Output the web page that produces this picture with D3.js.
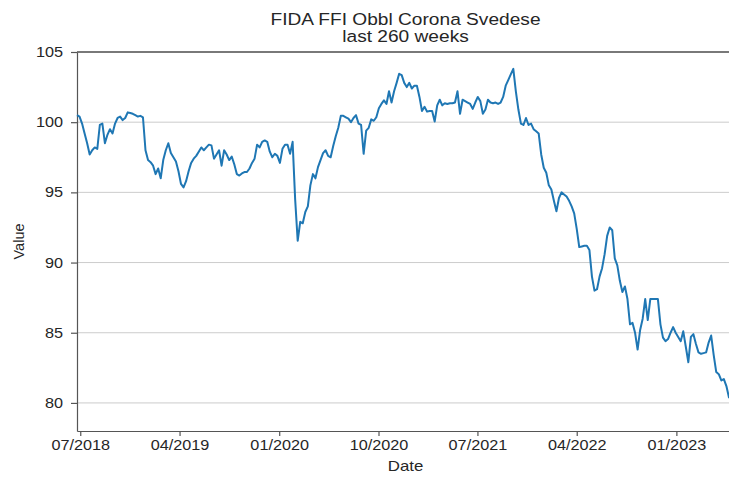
<!DOCTYPE html>
<html>
<head>
<meta charset="utf-8">
<script src="https://cdn.jsdelivr.net/npm/d3@7"></script>
<style>
  body { margin: 0; background: #fff; }
  text { font-family: "Liberation Sans", Arial, sans-serif; fill: #262626; }
</style>
</head>
<body>
<div class="canvas"></div>
<script>
const titleLines = ['FIDA FFI Obbl Corona Svedese', 'last 260 weeks'];
const firstWeek = new Date(2018, 5, 22);

// weekly values, one block per year of the window
const weeksA = [100.5, 100.4, 99.9, 99.2, 98.5, 97.7, 98.0, 98.2, 98.1, 99.8,
  99.9, 98.5, 99.1, 99.5, 99.2, 99.9, 100.3, 100.4, 100.15, 100.3,
  100.7, 100.65, 100.6, 100.5, 100.4, 100.45, 100.35, 98.0, 97.3, 97.15,
  96.9, 96.3, 96.7, 96.0, 97.3, 98.0, 98.5, 97.8, 97.5, 97.2,
  96.5, 95.6, 95.35, 95.8, 96.5, 97.1, 97.4, 97.6, 97.9, 98.2,
  98.0, 98.2];
const weeksB = [98.4, 98.35, 97.4, 97.7, 98.0, 96.9, 98.0, 97.7,
  97.3, 97.55, 97.0, 96.3, 96.2, 96.35, 96.45, 96.45, 96.7, 97.1,
  97.4, 98.4, 98.2, 98.6, 98.7, 98.6, 97.9, 97.5, 97.75, 97.6,
  97.1, 98.1, 98.4, 98.4, 97.75, 98.6, 94.5, 91.55, 92.9, 92.8,
  93.6, 94.0, 95.5, 96.3, 96.0, 96.8, 97.3, 97.8, 98.0, 97.6,
  97.5, 98.3, 99.0, 99.6];
const weeksC = [100.45, 100.45, 100.35, 100.25, 100.0, 100.3,
  100.5, 99.9, 99.8, 97.75, 99.4, 99.6, 100.2, 100.1, 100.35, 101.0,
  101.3, 101.55, 101.3, 102.2, 101.4, 102.2, 102.8, 103.45, 103.35, 102.8,
  102.5, 102.8, 102.4, 102.6, 102.6, 101.8, 100.8, 101.1, 100.75, 100.8,
  100.8, 100.05, 101.2, 101.6, 101.2, 101.35, 101.3, 101.35, 101.35, 101.4,
  102.2, 100.6, 101.6, 101.5, 101.4, 101.3];
const weeksD = [100.95, 101.4, 101.8, 101.5,
  100.6, 100.9, 101.6, 101.4, 101.35, 101.4, 101.3, 101.4, 101.8, 102.6,
  103.0, 103.4, 103.8, 102.2, 100.9, 99.9, 99.8, 100.3, 99.8, 99.9,
  99.5, 99.35, 99.2, 97.7, 96.75, 96.4, 95.5, 95.2, 94.4, 93.65,
  94.6, 95.0, 94.85, 94.7, 94.4, 94.0, 93.5, 92.4, 91.1, 91.15,
  91.2, 91.2, 90.9, 89.0, 88.0, 88.1, 89.0, 89.6];
const weeksE = [90.6, 91.9,
  92.5, 92.3, 90.3, 89.8, 88.7, 87.9, 88.3, 87.4, 85.6, 85.7,
  85.0, 83.8, 85.2, 86.0, 87.4, 85.9, 87.4, 87.4, 87.4, 87.4,
  85.6, 84.65, 84.4, 84.55, 85.0, 85.4, 85.0, 84.7, 84.4, 85.1,
  84.0, 82.9, 84.7, 84.9, 84.2, 83.6, 83.5, 83.55, 83.6, 84.3,
  84.8, 83.4, 82.2, 82.05, 81.6, 81.7, 81.2, 80.4, 80.3, 80.2];

const yTicks = [80, 85, 90, 95, 100, 105];
const xTickLabels = ['07/2018', '04/2019', '01/2020', '10/2020', '07/2021', '04/2022', '01/2023'];

const values = [...weeksA, ...weeksB, ...weeksC, ...weeksD, ...weeksE];
const data = values.map((v, i) => ({ date: d3.timeDay.offset(firstWeek, i * 7), value: v }));

const dims = { width: 729, height: 477 };
const plot = { left: 77, right: 734, top: 52, bottom: 431 };
const stretch = 1.16; // text in the picture is a bit wider than tall

const svg = d3
  .select('.canvas')
  .append('svg')
  .attr('width', dims.width)
  .attr('height', dims.height);

const parseTick = d3.timeParse('%m/%Y');
const x = d3
  .scaleTime()
  .domain(d3.extent(data, (d) => d.date))
  .range([plot.left, plot.right]);
const y = d3.scaleLinear().domain([78, 105]).range([plot.bottom, plot.top]);

// horizontal grid
svg
  .append('g')
  .selectAll('line')
  .data(yTicks)
  .join('line')
  .attr('x1', plot.left)
  .attr('x2', plot.right)
  .attr('y1', (d) => y(d))
  .attr('y2', (d) => y(d))
  .attr('stroke', '#cccccc')
  .attr('stroke-width', 1);

// top spine
svg
  .append('line')
  .attr('x1', plot.left)
  .attr('x2', plot.right)
  .attr('y1', y(105))
  .attr('y2', y(105))
  .attr('stroke', '#555')
  .attr('stroke-width', 1.4);

const yAxis = svg
  .append('g')
  .attr('transform', `translate(${plot.left},0)`)
  .call(d3.axisLeft(y).tickValues(yTicks).tickSize(6).tickSizeOuter(0).tickPadding(8));

const xAxis = svg
  .append('g')
  .attr('transform', `translate(0,${plot.bottom})`)
  .call(
    d3
      .axisBottom(x)
      .tickValues(xTickLabels.map(parseTick))
      .tickFormat(d3.timeFormat('%m/%Y'))
      .tickSize(5)
      .tickSizeOuter(0)
      .tickPadding(4)
  );

[yAxis, xAxis].forEach((g) => {
  g.selectAll('path, line').attr('stroke', '#555').attr('stroke-width', 1.2);
  g.selectAll('text').attr('font-size', 14).attr('fill', '#262626');
});
// widen tick labels, keeping their anchor point
yAxis.selectAll('text').attr('x', -14 / stretch).attr('transform', `scale(${stretch},1)`);
xAxis.selectAll('text').attr('transform', `scale(${stretch},1)`);

// the line itself
const line = d3
  .line()
  .x((d) => x(d.date))
  .y((d) => y(d.value));

svg
  .append('path')
  .datum(data)
  .attr('d', line)
  .attr('fill', 'none')
  .attr('stroke', '#1f77b4')
  .attr('stroke-width', 2)
  .attr('stroke-linejoin', 'round');

// titles
const cx = (plot.left + plot.right) / 2;
svg
  .append('g')
  .selectAll('text')
  .data(titleLines)
  .join('text')
  .attr('transform', (d, i) => `translate(${cx},${25 + i * 17}) scale(${stretch},1)`)
  .attr('text-anchor', 'middle')
  .attr('font-size', 16.5)
  .text((d) => d);

svg
  .append('text')
  .attr('transform', `translate(${cx},471) scale(${stretch},1)`)
  .attr('text-anchor', 'middle')
  .attr('font-size', 14.5)
  .text('Date');

svg
  .append('text')
  .attr('transform', `translate(24,${(plot.top + plot.bottom) / 2}) rotate(-90)`)
  .attr('text-anchor', 'middle')
  .attr('font-size', 14.5)
  .text('Value');
</script>
</body>
</html>
